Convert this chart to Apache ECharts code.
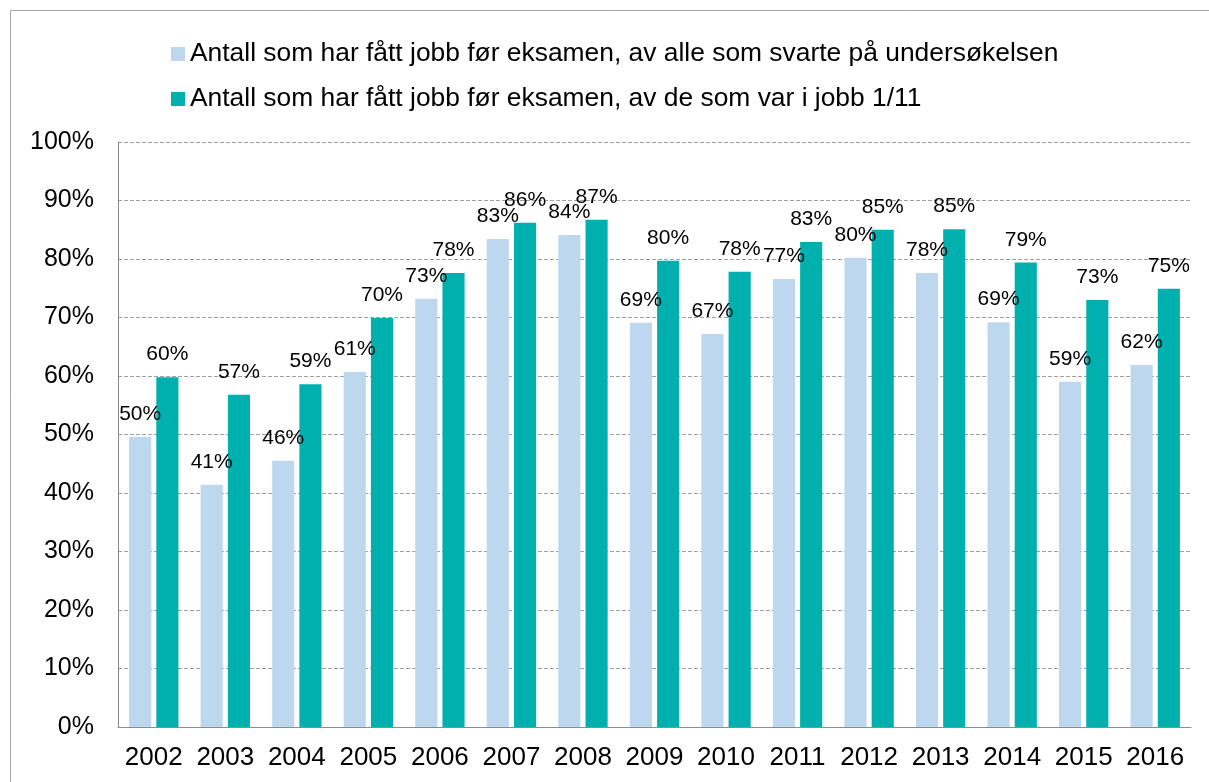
<!DOCTYPE html>
<html><head><meta charset="utf-8">
<script src="https://cdn.jsdelivr.net/npm/echarts@6/dist/echarts.min.js"></script>
<style>html,body{margin:0;padding:0;background:#fff}#c{width:1209px;height:782px}</style>
</head><body><div id="c"></div>
<script>
const categories = ['2002','2003','2004','2005','2006','2007','2008','2009','2010','2011','2012','2013','2014','2015','2016'];
const seriesNames = ['Antall som har fått jobb før eksamen, av alle som svarte på undersøkelsen','Antall som har fått jobb før eksamen, av de som var i jobb 1/11'];
const allRespondents = [49.6,41.4,45.5,60.7,73.2,83.4,84.1,69.1,67.2,76.6,80.2,77.6,69.2,59.0,61.9];
const inJobNov = [59.8,56.8,58.6,69.9,77.6,86.2,86.7,79.7,77.8,82.9,85.0,85.1,79.4,73.0,74.9];
const font = '"Liberation Sans", Arial, sans-serif';
const chart = echarts.init(document.getElementById('c'), null, {renderer:'canvas'});
const lbl = {show:true, position:'top', distance:12, color:'#000', fontSize:21, fontFamily:font,
  formatter: p => Math.round(p.value) + '%'};
chart.setOption({
  animation:false,
  graphic:[{type:'rect', shape:{x:10.5,y:10.5,width:1220,height:800}, style:{fill:'none', stroke:'#a6a6a6', lineWidth:1}, silent:true}],
  legend:{orient:'vertical', left:166, top:36, itemWidth:14, itemHeight:14, itemGap:19,
    textStyle:{fontSize:26.4, lineHeight:26, fontFamily:font, color:'#000'}, icon:'rect', data:seriesNames},
  grid:{left:118, right:18, top:142, bottom:55, containLabel:false},
  xAxis:{type:'category', data:categories,
    axisLine:{lineStyle:{color:'#8c8c8c', width:1}}, axisTick:{show:false},
    axisLabel:{interval:0, fontSize:26, fontFamily:font, color:'#000', margin:18}},
  yAxis:{type:'value', min:0, max:100, interval:10,
    axisLine:{show:true, lineStyle:{color:'#8c8c8c', width:1}}, axisTick:{show:false},
    axisLabel:{fontSize:25, fontFamily:font, color:'#000', margin:24, formatter:'{value}%'},
    splitLine:{lineStyle:{color:'#a0a0a0', type:[4,2], width:1}}},
  series:[
    {name:seriesNames[0], type:'bar', data:allRespondents, barGap:'23%', barCategoryGap:'31%',
      itemStyle:{color:'#bdd7ee'}, label:lbl},
    {name:seriesNames[1], type:'bar', data:inJobNov,
      itemStyle:{color:'#00b0ae'}, label:lbl}
  ]
});
</script></body></html>
